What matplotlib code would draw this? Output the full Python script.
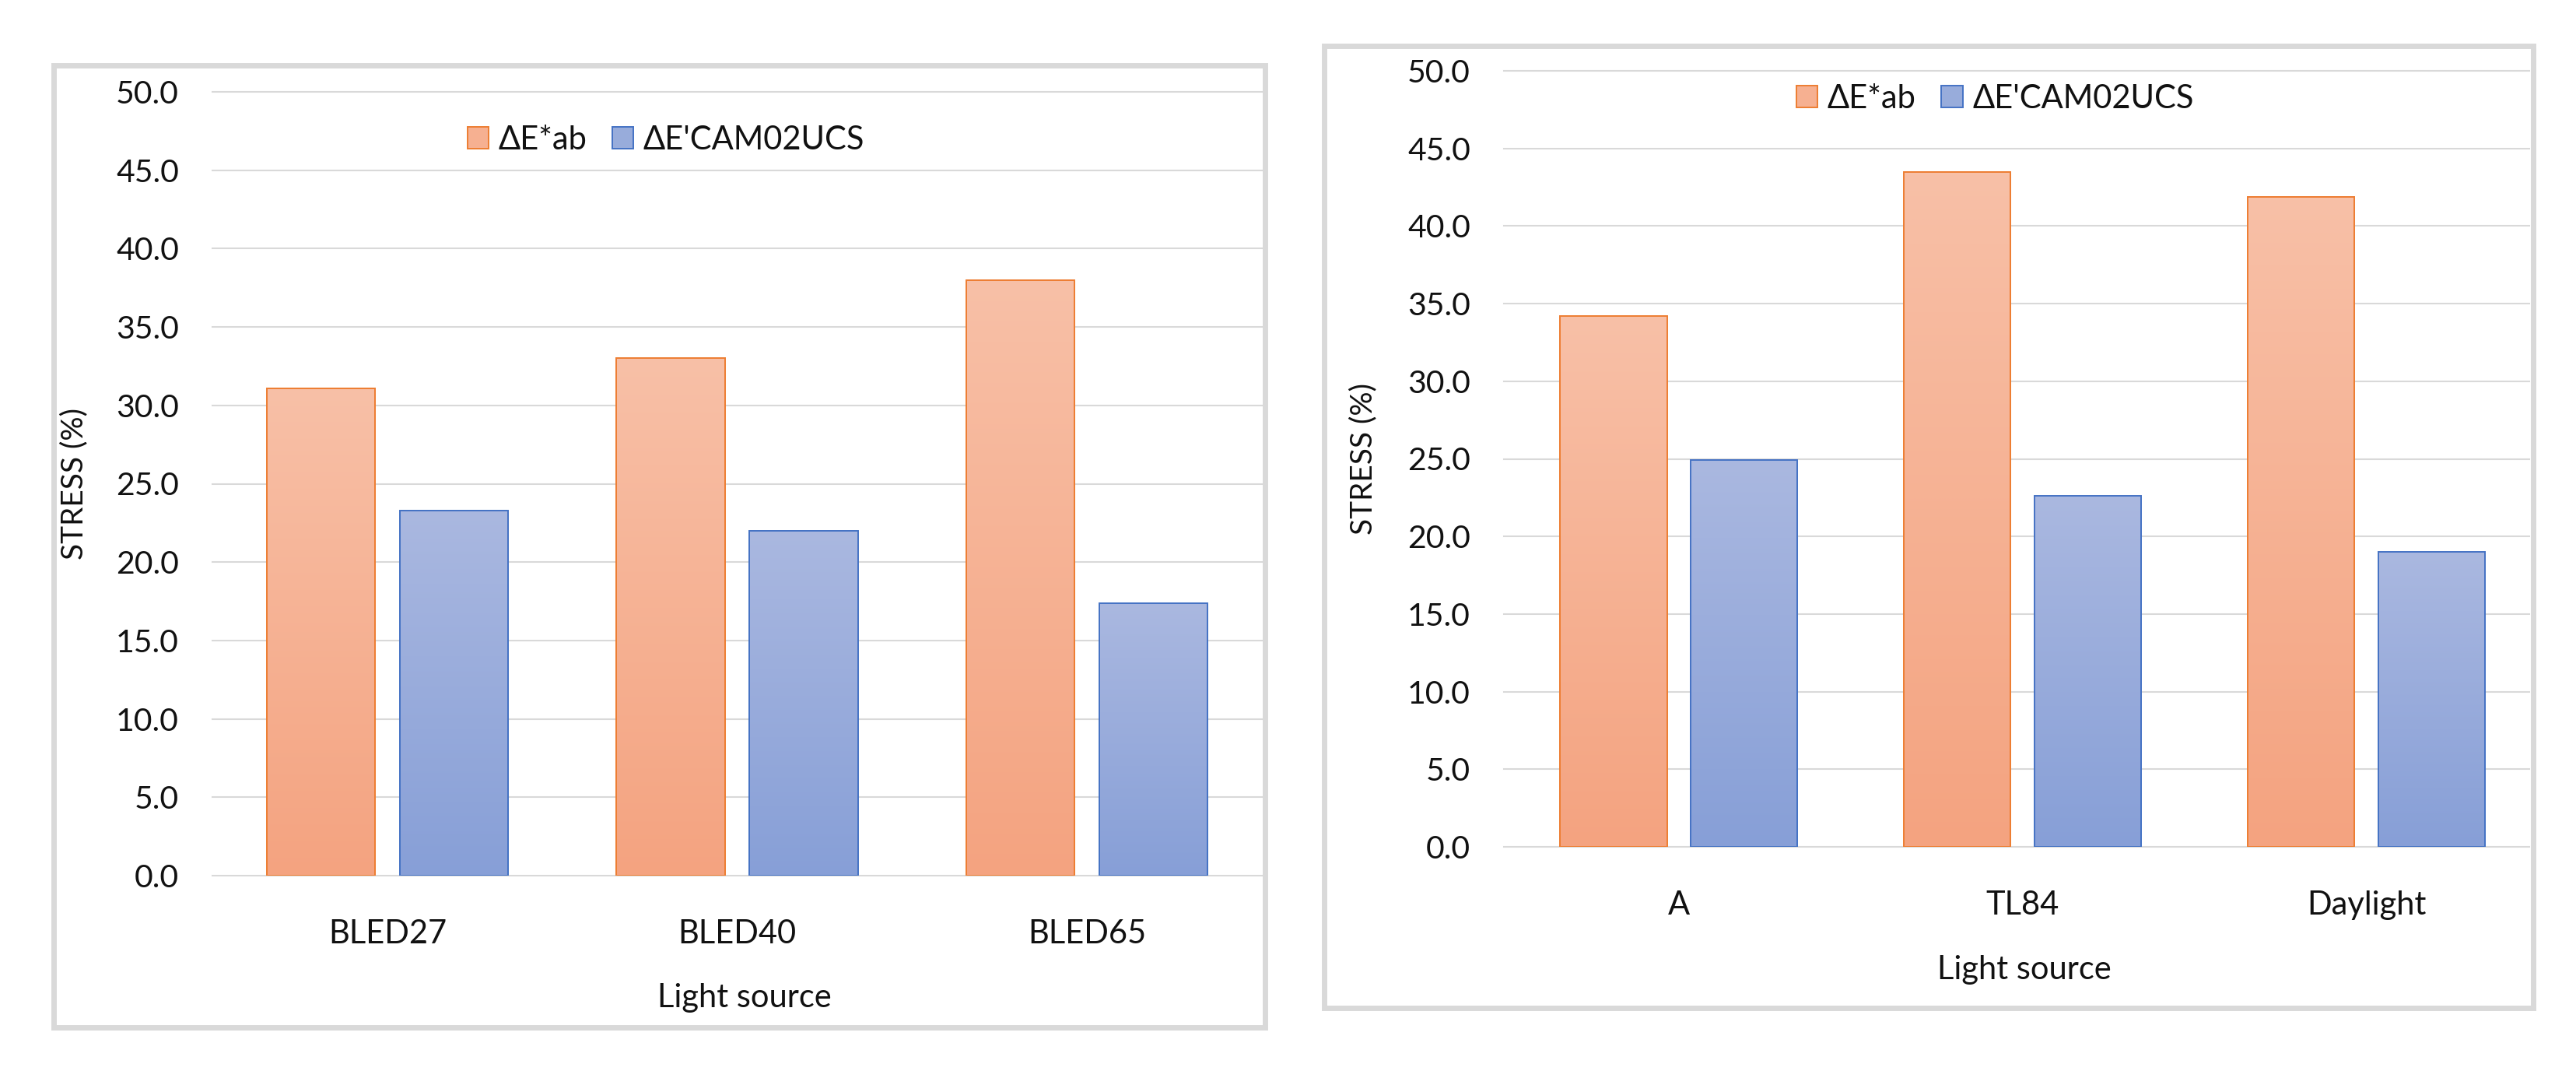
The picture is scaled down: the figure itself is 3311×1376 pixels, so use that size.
import numpy as np
import matplotlib
matplotlib.use("Agg")
import matplotlib.pyplot as plt
from matplotlib.patches import Rectangle, Patch
from matplotlib.colors import LinearSegmentedColormap

plt.rcParams['font.family'] = ['Lato', 'Open Sans', 'DejaVu Sans']

# data
left_sources = ["BLED27", "BLED40", "BLED65"]
left_ab = [31.1, 33.0, 38.0]
left_cam = [23.3, 22.0, 17.4]

right_sources = ["A", "TL84", "Daylight"]
right_ab = [34.2, 43.5, 41.9]
right_cam = [24.9, 22.6, 19.0]

series_names = ["ΔE*ab", "ΔE'CAM02UCS"]
yticks = np.arange(0, 50.1, 5)

W, H = 3311, 1376
orange_cm = LinearSegmentedColormap.from_list("o", ["#F4A380", "#F8C0A7"])
blue_cm = LinearSegmentedColormap.from_list("b", ["#879FD7", "#AAB8E0"])
orange_edge = "#ED7D31"
blue_edge = "#4472C4"
grid_col = "#D9D9D9"
txt = "#111111"

fig = plt.figure(figsize=(W / 100, H / 100), dpi=100)


def px_axes(x0, x1, ytop, ybot):
    return fig.add_axes([x0 / W, 1 - ybot / H, (x1 - x0) / W, (ybot - ytop) / H])


def gradient_bars(ax, xs, vals, cmap, edge):
    bars = ax.bar(xs, vals, width=0.31, facecolor="none", edgecolor=edge,
                  linewidth=1.4, zorder=3)
    grad = np.linspace(0, 1, 256).reshape(-1, 1)
    for b in bars:
        x0, w, h = b.get_x(), b.get_width(), b.get_height()
        ax.imshow(grad, cmap=cmap, extent=(x0, x0 + w, 0, h), origin="lower",
                  aspect="auto", zorder=2, interpolation="bicubic")
    return bars


def draw_panel(ax, sources, ab, cam, xlim, ylab_x, xlab_pos):
    x = np.arange(len(sources))
    gradient_bars(ax, x - 0.19, ab, orange_cm, orange_edge)
    gradient_bars(ax, x + 0.19, cam, blue_cm, blue_edge)
    ax.set_xlim(*xlim)
    ax.set_ylim(0, 50)
    ax.set_yticks(yticks)
    ax.set_yticklabels([f"{v:.1f}" for v in yticks])
    ax.set_xticks(x)
    ax.set_xticklabels(sources)
    ax.tick_params(axis="y", length=0, pad=31, labelsize=29.5, labelcolor=txt)
    ax.tick_params(axis="x", length=0, pad=40, labelsize=30, labelcolor=txt)
    for s in ax.spines.values():
        s.set_visible(False)
    ax.set_axisbelow(True)
    ax.grid(axis="y", color=grid_col, linewidth=1.5, zorder=0)
    for gl in ax.get_ygridlines():
        gl.set_clip_on(False)
    ax.set_ylabel("STRESS (%)", fontsize=28, color=txt)
    ax.yaxis.set_label_coords(ylab_x, 0.5)
    ax.yaxis.label.set_va("center")
    ax.set_xlabel("Light source", fontsize=30, color=txt)
    ax.xaxis.set_label_coords(*xlab_pos)
    ax.xaxis.label.set_va("center")


ax1 = px_axes(273, 1622, 118, 1125)
draw_panel(ax1, left_sources, left_ab, left_cam, (-0.5, 2.5), -0.132, (0.507, -0.156))

ax2 = px_axes(1933, 3251, 91, 1088)
draw_panel(ax2, right_sources, right_ab, right_cam, (-0.509, 2.473), -0.137, (0.5076, -0.158))

handles = [Patch(facecolor="#F6B091", edgecolor=orange_edge, linewidth=1.4),
           Patch(facecolor="#98ACDB", edgecolor=blue_edge, linewidth=1.4)]
for cx, cy in [(856, 180), (2564, 127)]:
    fig.legend(handles, series_names, loc="center", bbox_to_anchor=(cx / W, 1 - cy / H),
               ncol=2, frameon=False, fontsize=30, handlelength=0.65, handleheight=0.65,
               handletextpad=0.3, columnspacing=0.8, labelcolor=txt)

# gray frames around each chart
for x0, x1, y0, y1 in [(68.5, 1625.5, 83.5, 1319.5), (1701.5, 3255.5, 58.5, 1294.5)]:
    fig.add_artist(Rectangle((x0 / W, 1 - y1 / H), (x1 - x0) / W, (y1 - y0) / H,
                             transform=fig.transFigure, fill=False,
                             edgecolor=grid_col, linewidth=5))

fig.savefig("out.png", dpi=100, facecolor="white")
